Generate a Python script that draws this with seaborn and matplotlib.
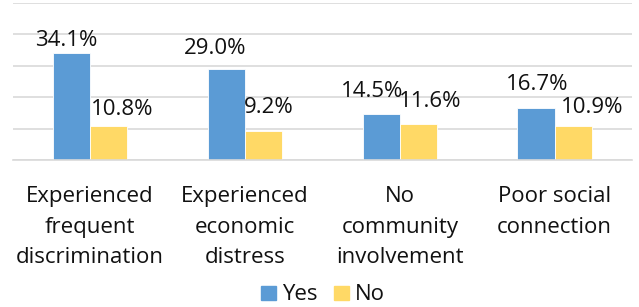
import pandas as pd
import matplotlib.pyplot as plt
import seaborn as sns

categories = ["Experienced\nfrequent\ndiscrimination", "Experienced\neconomic\ndistress",
              "No\ncommunity\ninvolvement", "Poor social\nconnection"]
yes_vals = [34.1, 29.0, 14.5, 16.7]
no_vals = [10.8, 9.2, 11.6, 10.9]

# label nudges in pixels (the labels were dragged around in the original)
yes_nudge = [(-5, 7), (-11, 15), (-9, 17), (1, 18)]
no_nudge = [(13, 11), (5, 18), (12, 17), (19, 13)]

df = pd.DataFrame({
    "cat": categories * 2,
    "group": ["Yes"] * 4 + ["No"] * 4,
    "value": yes_vals + no_vals,
})

sns.set_style("white")
plt.rcParams['font.family'] = ['Open Sans', 'DejaVu Sans']
plt.rcParams['text.color'] = '#111111'

fig = plt.figure(figsize=(6.39, 3.07), dpi=100)
ax = fig.add_axes([0.02, 0.479, 0.969, 0.511])

sns.barplot(data=df, x="cat", y="value", hue="group", palette={"Yes": "#5B9BD5", "No": "#FFD966"},
            width=0.48, gap=0, ax=ax, legend=False, saturation=1, edgecolor="white", linewidth=0.6)

ax.set_ylim(0, 50)
ax.set_xlim(-0.5, 3.5)
ax.set_yticks(range(0, 51, 10))
ax.set_yticklabels([])
ax.tick_params(left=False, bottom=False, labelsize=16, pad=15, labelcolor="#111111")
ax.grid(axis="y", color="#D9D9D9", linewidth=1.2)
ax.set_axisbelow(True)
for s in ["left", "right", "top"]:
    ax.spines[s].set_visible(False)
ax.spines["bottom"].set_color("#D9D9D9")
ax.spines["bottom"].set_linewidth(1.2)
ax.set_xlabel("")
ax.set_ylabel("")
for lbl in ax.get_xticklabels():
    lbl.set_linespacing(1.62)

for cont, nudges in zip(ax.containers, [yes_nudge, no_nudge]):
    for bar, (dx, dy) in zip(cont, nudges):
        h = bar.get_height()
        ax.annotate(f"{h:.1f}%", (bar.get_x() + bar.get_width() / 2, h), xytext=(dx, dy),
                    textcoords="offset pixels", ha="center", va="baseline", fontsize=16)

handles = [plt.Rectangle((0, 0), 1, 1, color="#5B9BD5"), plt.Rectangle((0, 0), 1, 1, color="#FFD966")]
fig.legend(handles, ["Yes", "No"], loc="lower center", bbox_to_anchor=(0.505, -0.06), ncol=2, frameon=False,
           fontsize=16, handlelength=0.68, handleheight=0.6, handletextpad=0.25, columnspacing=0.75)

fig.savefig("out.png", dpi=100)
